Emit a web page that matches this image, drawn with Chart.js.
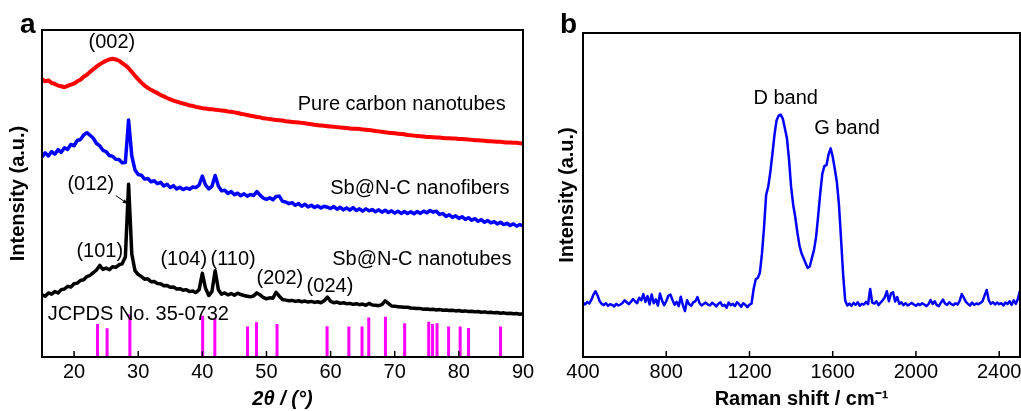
<!DOCTYPE html>
<html>
<head>
<meta charset="utf-8">
<script src="https://cdn.jsdelivr.net/npm/chart.js@4.4.1/dist/chart.umd.min.js"></script>
<style>
  html, body { margin: 0; padding: 0; background: #fff; }
  #wrap { position: relative; width: 1021px; height: 411px; overflow: hidden; }
  #xrd { position: absolute; left: 0; top: 0; }
  #raman { position: absolute; left: 540px; top: 0; }
</style>
</head>
<body>
<div id="wrap">
  <canvas id="xrd" width="540" height="411"></canvas>
  <canvas id="raman" width="500" height="411"></canvas>
</div>
<script>
// ---- panel a : XRD, 2theta from 15 to 90 every 0.5 deg ----
const xrdAngles = Array.from({length: 151}, (_, i) => 15 + i * 0.5);

const pureCarbon = [
  85.0, 84.3, 84.6, 83.8, 83.5, 83.0, 82.8, 82.5, 82.9, 83.3,
  83.6, 84.3, 84.8, 85.7, 86.3, 87.2, 88.0, 88.8, 89.5, 90.1,
  90.6, 91.0, 91.2, 91.0, 90.6, 89.9, 89.2, 88.3, 87.2, 86.0,
  84.9, 83.9, 83.0, 82.3, 81.7, 81.2, 80.7, 80.1, 79.7, 79.2,
  78.8, 78.4, 78.1, 77.8, 77.5, 77.3, 76.9, 76.8, 76.5, 76.3,
  76.1, 76.0, 75.8, 75.8, 75.6, 75.5, 75.4, 75.3, 75.1, 75.0,
  74.8, 74.6, 74.4, 74.2, 74.0, 73.8, 73.6, 73.4, 73.3, 73.0,
  72.9, 72.8, 72.6, 72.5, 72.4, 72.3, 72.1, 72.0, 71.9, 71.8,
  71.7, 71.6, 71.5, 71.3, 71.2, 71.0, 70.9, 70.8, 70.7, 70.6,
  70.5, 70.4, 70.3, 70.2, 70.1, 70.0, 69.9, 69.8, 69.8, 69.7,
  69.6, 69.5, 69.4, 69.3, 69.1, 69.0, 68.9, 68.7, 68.6, 68.5,
  68.4, 68.3, 68.2, 68.1, 67.9, 67.8, 67.7, 67.6, 67.5, 67.4,
  67.3, 67.3, 67.2, 67.1, 67.1, 67.0, 66.9, 66.9, 66.8, 66.8,
  66.7, 66.7, 66.6, 66.5, 66.4, 66.3, 66.3, 66.2, 66.1, 66.0,
  66.0, 65.9, 65.8, 65.8, 65.7, 65.6, 65.6, 65.5, 65.5, 65.4,
  65.3
];

const sbNanofibers = [
  61.2, 62.4, 61.5, 62.8, 62.0, 63.4, 62.6, 64.0, 63.5, 65.0,
  64.6, 66.2, 66.5, 67.9, 68.6, 67.8, 66.9, 65.3, 64.6, 63.2,
  62.8, 61.6, 61.4, 60.5, 60.4, 59.4, 59.5, 72.5, 61.5, 57.2,
  55.8, 55.6, 54.4, 54.6, 53.6, 53.9, 53.0, 53.4, 52.3, 52.8,
  51.8, 52.4, 51.4, 51.9, 51.2, 51.7, 51.3, 52.0, 51.8, 52.6,
  55.3, 52.6, 51.4, 52.2, 55.5, 52.3, 50.8, 51.0, 50.0, 50.6,
  49.6, 50.1, 49.3, 49.9, 49.2, 49.7, 49.4, 50.6, 49.5, 48.6,
  48.2, 48.7, 48.1, 49.1, 49.2, 47.6, 47.4, 46.9, 47.2, 46.4,
  46.9, 46.1, 46.7, 45.9, 46.4, 45.7, 46.2, 45.6, 46.1, 45.8,
  45.4, 46.0, 45.2, 45.8, 45.0, 45.6, 44.9, 45.7, 44.8, 45.3,
  44.6, 45.3, 44.7, 45.1, 44.4, 45.0, 44.3, 44.9, 44.2, 44.7,
  44.0, 44.6, 43.9, 44.5, 43.9, 44.4, 43.8, 44.5, 43.9, 44.6,
  44.1, 44.8, 44.3, 44.6, 43.6, 43.9, 43.0, 43.5, 42.7, 43.2,
  42.4, 42.9, 42.1, 42.6, 41.8, 42.3, 41.5, 42.0, 41.2, 41.7,
  41.0, 41.4, 40.7, 41.2, 40.5, 40.9, 40.2, 40.7, 40.0, 40.5,
  40.1
];

const sbNanotubes = [
  19.0, 18.6, 19.6, 19.2, 20.0, 19.6, 20.6, 20.8, 21.6, 21.4,
  22.4, 22.6, 23.4, 23.6, 24.6, 25.0, 25.8, 26.6, 28.0, 26.8,
  27.2, 26.7, 27.6, 27.4, 28.2, 28.5, 30.6, 52.8, 31.5, 26.4,
  25.2, 24.6, 23.8, 23.9, 23.0, 23.1, 22.5, 22.4, 21.8, 21.9,
  21.3, 21.4, 20.8, 20.9, 20.4, 20.6, 20.0, 20.2, 19.7, 20.6,
  25.6, 21.0, 18.8, 20.0, 26.4, 20.6, 19.2, 19.6, 19.0, 19.4,
  18.9, 19.5, 19.1, 18.8, 18.6, 18.4, 18.7, 19.6, 19.0, 18.2,
  17.8, 18.1, 18.0, 19.8, 18.6, 17.6, 17.4, 17.2, 17.3, 17.0,
  17.2, 16.9, 17.1, 16.8, 17.0, 16.7, 16.9, 16.6, 17.2, 18.3,
  17.0, 16.6, 16.8, 16.4, 16.6, 16.3, 16.4, 16.1, 16.3, 16.0,
  16.2, 15.8, 16.4, 15.9, 15.8, 15.7, 16.0, 17.2, 16.4, 15.6,
  15.5, 15.4, 15.3, 15.2, 15.2, 15.0, 14.9, 14.8, 14.8, 14.6,
  14.7, 14.5, 14.6, 14.4, 14.5, 14.3, 14.4, 14.2, 14.3, 14.1,
  14.2, 14.0, 14.1, 13.9, 14.0, 13.8, 13.9, 13.7, 13.8, 13.6,
  13.7, 13.5, 13.6, 13.4, 13.5, 13.3, 13.4, 13.2, 13.3, 13.1,
  13.2
];

// JCPDS No. 35-0732 reference sticks
const jcpdsAngles  = [23.65, 25.15, 28.7, 40.05, 41.95, 47.05, 48.45, 51.65, 59.45, 62.85, 64.9,
                      65.95, 68.55, 71.55, 75.3, 75.9, 76.6, 78.4, 80.2, 81.5, 86.5];
const jcpdsHeights = [10.1, 8.8, 13.1, 12.6, 11.9, 9.3, 10.6, 10.1, 9.4, 9.3, 9.3,
                      12.1, 12.3, 10.3, 10.8, 10.1, 10.3, 9.3, 9.3, 8.9, 9.3];

const xrdTicks = [20, 30, 40, 50, 60, 70, 80, 90];

// ---- panel b : Raman, 400 to 2500 cm-1 every 10 ----
const ramanShift = Array.from({length: 211}, (_, i) => 400 + i * 10);

const ramanIntensity = [
  16.8, 16.2, 17.0, 16.5, 17.6, 19.2, 20.3, 19.0, 17.2, 16.4,
  16.0, 16.6, 15.8, 16.3, 16.1, 15.6, 16.4, 15.9, 16.2, 16.7,
  17.5, 16.9, 16.3, 17.0, 17.9, 17.2, 16.6, 18.3, 17.5, 19.4,
  17.0, 18.8, 16.2, 19.3, 16.6, 17.8, 15.9, 19.6, 17.4, 16.0,
  17.2, 18.9, 19.3, 17.6, 16.1, 17.0, 15.7, 18.6, 16.0, 14.2,
  17.5, 16.3, 15.8, 16.9, 17.2, 18.5, 16.6, 15.9, 16.4, 16.8,
  16.2, 15.9, 16.7, 16.3, 15.6, 16.4, 16.9, 15.8, 16.1, 15.2,
  16.8, 16.0, 16.4, 15.7, 16.9, 16.3, 15.5, 16.6, 16.1, 15.4,
  16.2, 16.5, 21.0, 24.0, 24.4, 26.0, 31.9, 40.0, 50.0, 52.5,
  57.0, 62.5, 68.5, 73.0, 74.5, 74.8, 73.6, 70.6, 67.5, 61.0,
  52.5, 47.0, 43.2, 38.5, 34.5, 32.0, 30.5, 28.9, 27.5, 28.0,
  30.6, 33.0, 37.0, 43.5, 50.5, 56.5, 58.9, 59.2, 62.5, 64.4,
  61.8, 58.0, 54.0, 47.0, 36.5, 25.5, 17.4, 15.9, 16.5, 15.8,
  16.7, 16.1, 16.9, 15.8, 16.4, 16.2, 17.0, 16.3, 21.0, 16.8,
  16.5, 17.2, 16.0, 16.8, 17.5, 18.4, 20.3, 17.2, 19.6, 20.0,
  17.1, 18.5, 16.4, 16.9, 16.0, 16.6, 15.9, 16.3, 16.7, 16.2,
  15.8, 16.4, 16.0, 16.6, 16.2, 15.7, 16.3, 17.6, 16.4, 17.2,
  16.0, 15.7, 16.8, 17.7, 16.5, 16.1, 16.9, 16.3, 16.0, 16.6,
  16.2, 17.3, 19.4, 18.3, 17.0, 16.4, 15.9, 16.8, 16.1, 16.5,
  16.3, 16.7, 17.2, 19.0, 20.7, 17.5, 16.4, 16.9, 16.2, 16.8,
  16.3, 16.6, 15.9, 16.8, 16.4, 17.2, 16.1, 17.5, 16.4, 18.0, 20.5
];

const ramanTicks = [400, 800, 1200, 1600, 2000, 2400];

const FONT = '"Liberation Sans", Arial, sans-serif';

// text placed in data coordinates
const xrdNotes = [
  { text: '(002)', x: 25.9, y: 96.1, align: 'center' },
  { text: 'Pure carbon nanotubes', x: 87.3, y: 77.3, align: 'right' },
  { text: 'Sb@N-C nanofibers', x: 87.9, y: 51.5, align: 'right' },
  { text: '(012)', x: 22.6, y: 52.7, align: 'center' },
  { text: '(101)', x: 24.0, y: 32.4, align: 'center' },
  { text: '(104)', x: 37.1, y: 29.7, align: 'center' },
  { text: '(110)', x: 44.8, y: 29.7, align: 'center' },
  { text: 'Sb@N-C nanotubes', x: 88.2, y: 29.7, align: 'right' },
  { text: '(202)', x: 52.1, y: 23.9, align: 'center' },
  { text: '(024)', x: 59.9, y: 21.5, align: 'center' },
  { text: 'JCPDS No. 35-0732', x: 15.9, y: 13.0, align: 'left' }
];
const ramanNotes = [
  { text: 'D band', x: 1374, y: 79.9, align: 'center' },
  { text: 'G band', x: 1669, y: 70.6, align: 'center' }
];

function toPoints(xs, ys) {
  return xs.map((x, i) => ({ x: x, y: ys[i] }));
}

function stickPoints(xs, hs) {
  const pts = [];
  xs.forEach((x, i) => {
    pts.push({ x: x, y: 0 }, { x: x, y: hs[i] }, { x: x, y: null });
  });
  return pts;
}

// frame, inward ticks, y title, panel letter, annotations
const decor = {
  id: 'decor',
  afterDraw(chart, args, opts) {
    const ctx = chart.ctx;
    const a = chart.chartArea;
    const sx = chart.scales.x, sy = chart.scales.y;
    ctx.save();
    ctx.fillStyle = '#000';
    ctx.strokeStyle = '#000';

    ctx.font = '20px ' + FONT;
    ctx.textBaseline = 'middle';
    opts.notes.forEach(n => {
      ctx.textAlign = n.align;
      ctx.fillText(n.text, sx.getPixelForValue(n.x), sy.getPixelForValue(n.y));
    });

    if (opts.arrow) {
      const x1 = sx.getPixelForValue(opts.arrow[0]), y1 = sy.getPixelForValue(opts.arrow[1]);
      const x2 = sx.getPixelForValue(opts.arrow[2]), y2 = sy.getPixelForValue(opts.arrow[3]);
      const ang = Math.atan2(y2 - y1, x2 - x1);
      ctx.lineWidth = 1;
      ctx.beginPath(); ctx.moveTo(x1, y1); ctx.lineTo(x2, y2); ctx.stroke();
      ctx.beginPath();
      ctx.moveTo(x2, y2);
      ctx.lineTo(x2 - 5 * Math.cos(ang - 0.45), y2 - 5 * Math.sin(ang - 0.45));
      ctx.lineTo(x2 - 5 * Math.cos(ang + 0.45), y2 - 5 * Math.sin(ang + 0.45));
      ctx.closePath(); ctx.fill();
    }

    ctx.lineWidth = 1.5;
    opts.ticks.forEach(v => {
      const px = sx.getPixelForValue(v);
      ctx.beginPath(); ctx.moveTo(px, a.bottom); ctx.lineTo(px, a.bottom - 6); ctx.stroke();
    });

    ctx.lineWidth = 2;
    ctx.strokeRect(a.left, a.top, a.right - a.left, a.bottom - a.top);

    ctx.font = 'bold 28px ' + FONT;
    ctx.textAlign = 'left';
    ctx.textBaseline = 'alphabetic';
    ctx.fillText(opts.letter, 20, 33);

    ctx.font = 'bold 20px ' + FONT;
    ctx.textAlign = 'center';
    ctx.textBaseline = 'middle';
    ctx.translate(opts.yTitleX, (a.top + a.bottom) / 2);
    ctx.rotate(-Math.PI / 2);
    ctx.fillText('Intensity (a.u.)', 0, 0);
    ctx.restore();
  }
};

function xAxis(min, max, tickValues, title, italic) {
  return {
    type: 'linear',
    min: min,
    max: max,
    afterBuildTicks: axis => { axis.ticks = tickValues.map(v => ({ value: v })); },
    grid: { display: false, drawTicks: false },
    border: { display: false },
    ticks: {
      color: '#000',
      padding: 3,
      font: { family: FONT, size: 20 },
      callback: value => String(value)
    },
    title: {
      display: true,
      text: title,
      color: '#000',
      padding: 0,
      font: { family: FONT, size: 20, weight: 'bold', style: italic ? 'italic' : 'normal' }
    }
  };
}

new Chart(document.getElementById('xrd'), {
  type: 'line',
  data: {
    datasets: [
      { label: 'JCPDS No. 35-0732', data: stickPoints(jcpdsAngles, jcpdsHeights), borderColor: '#ff00ff', borderWidth: 3, spanGaps: false },
      { label: 'Sb@N-C nanotubes', data: toPoints(xrdAngles, sbNanotubes), borderColor: '#000000', borderWidth: 3.5 },
      { label: 'Sb@N-C nanofibers', data: toPoints(xrdAngles, sbNanofibers), borderColor: '#0000ff', borderWidth: 3.5 },
      { label: 'Pure carbon nanotubes', data: toPoints(xrdAngles, pureCarbon), borderColor: '#ff0000', borderWidth: 4 }
    ]
  },
  options: {
    responsive: false,
    animation: false,
    devicePixelRatio: 1,
    layout: { padding: { left: 42, right: 17, top: 30, bottom: 0 } },
    elements: { point: { radius: 0 }, line: { tension: 0, borderJoinStyle: 'round' } },
    plugins: {
      legend: { display: false },
      tooltip: { enabled: false },
      decor: { letter: 'a', yTitleX: 18, ticks: xrdTicks, notes: xrdNotes, arrow: [26.5, 49.4, 28.3, 46.9] }
    },
    scales: {
      x: xAxis(15, 90, xrdTicks, '2θ / (°)', true),
      y: { min: 0, max: 100, display: false }
    }
  },
  plugins: [decor]
});

new Chart(document.getElementById('raman'), {
  type: 'line',
  data: {
    datasets: [
      { label: 'Raman', data: toPoints(ramanShift, ramanIntensity), borderColor: '#0000ff', borderWidth: 2.5 }
    ]
  },
  options: {
    responsive: false,
    animation: false,
    devicePixelRatio: 1,
    layout: { padding: { left: 43, right: 20, top: 33, bottom: 0 } },
    elements: { point: { radius: 0 }, line: { tension: 0, borderJoinStyle: 'round' } },
    plugins: {
      legend: { display: false },
      tooltip: { enabled: false },
      decor: { letter: 'b', yTitleX: 27, ticks: ramanTicks, notes: ramanNotes }
    },
    scales: {
      x: xAxis(400, 2500, ramanTicks, 'Raman shift / cm⁻¹', false),
      y: { min: 0, max: 100, display: false }
    }
  },
  plugins: [decor]
});
</script>
</body>
</html>
